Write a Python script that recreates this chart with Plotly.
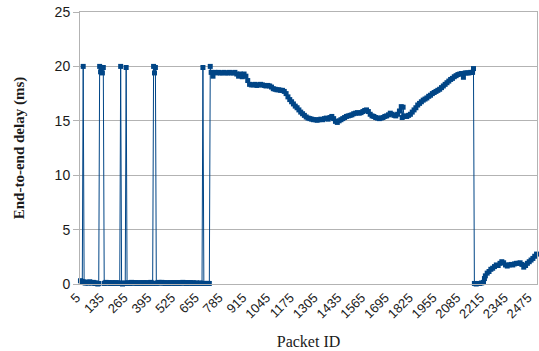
import plotly.graph_objects as go

# ---- data ----
# Segment A: packets 5..710 (step 5), baseline near 0 with spikes to ~20 ms
segA_id = list(range(5, 715, 5))
segA_delay = [
    0.3, 0.25, 0.2, 20.0, 0.2, 0.1, 0.1, 0.15, 0.1, 0.1, 0.2, 0.15, 0.1, 0.1, 0.15, 0.1, 0.05, 0.1, 0.05, 0.0,
    0.05, 20.0, 19.5, 19.9, 19.4, 19.9, 0.05, 0.1, 0.15, 0.1, 0.1, 0.1, 0.1, 0.05, 0.1, 0.1, 0.1, 0.05, 0.1, 0.1,
    0.1, 0.05, 0.1, 0.05, 20.0, 0.05, 0.0, 0.05, 0.1, 0.05, 19.9, 0.05, 0.1, 0.1, 0.05, 0.1, 0.15, 0.1, 0.1, 0.1,
    0.1, 0.1, 0.05, 0.1, 0.1, 0.1, 0.05, 0.1, 0.1, 0.1, 0.1, 0.05, 0.1, 0.1, 0.1, 0.05, 0.1, 0.15, 0.1, 0.05,
    20.0, 19.4, 19.9, 0.05, 0.1, 0.1, 0.15, 0.1, 0.1, 0.15, 0.1, 0.1, 0.1, 0.05, 0.1, 0.1, 0.1, 0.05, 0.1, 0.1,
    0.1, 0.1, 0.1, 0.05, 0.1, 0.1, 0.1, 0.1, 0.05, 0.1, 0.1, 0.1, 0.15, 0.1, 0.1, 0.1, 0.05, 0.1, 0.1, 0.1,
    0.1, 0.1, 0.05, 0.1, 0.1, 0.05, 0.05, 0.1, 0.05, 0.05, 0.05, 0.1, 0.05, 0.05, 19.9, 0.05, 0.05, 0.05, 0.05, 0.05,
    0.05, 0.05,
]

# Segment B: the long ~15-20 ms stretch
segB_id = [
    715, 720, 730, 740, 750, 760, 770, 780, 790, 800, 810, 820, 830, 840, 850, 860, 870, 880, 890, 900,
    910, 920, 930, 940, 950, 960, 970, 980, 990, 1000, 1010, 1020, 1030, 1040, 1050, 1060, 1070, 1080, 1090, 1100,
    1110, 1120, 1130, 1140, 1150, 1160, 1170, 1180, 1190, 1200, 1210, 1220, 1230, 1240, 1250, 1260, 1270, 1280, 1290, 1300,
    1310, 1320, 1330, 1340, 1350, 1360, 1370, 1380, 1390, 1400, 1410, 1420, 1430, 1440, 1450, 1460, 1470, 1480, 1490, 1500,
    1510, 1520, 1530, 1540, 1550, 1560, 1570, 1580, 1590, 1600, 1610, 1620, 1630, 1640, 1650, 1660, 1670, 1680, 1690, 1700,
    1710, 1720, 1730, 1740, 1750, 1760, 1765, 1770, 1775, 1780, 1790, 1800, 1810, 1820, 1830, 1840, 1850, 1860, 1870, 1880,
    1890, 1900, 1910, 1920, 1930, 1940, 1950, 1960, 1970, 1980, 1990, 2000, 2010, 2020, 2030, 2040, 2050, 2060, 2070, 2080,
    2090, 2100, 2110, 2120, 2130, 2140, 2150, 2155,
]
segB_delay = [
    20.0, 19.45, 19.1, 19.45, 19.4, 19.45, 19.4, 19.4, 19.45, 19.4, 19.4, 19.45, 19.4, 19.4, 19.45, 19.3, 19.1, 19.3, 19.05, 19.3,
    19.1, 18.7, 18.35, 18.3, 18.3, 18.35, 18.25, 18.3, 18.35, 18.3, 18.25, 18.2, 18.25, 18.2, 18.1, 17.95, 17.9, 17.85, 17.85, 17.8,
    17.8, 17.7, 17.5, 17.2, 16.95, 16.75, 16.55, 16.35, 16.2, 16.0, 15.8, 15.65, 15.5, 15.35, 15.25, 15.2, 15.15, 15.1, 15.1, 15.05,
    15.1, 15.15, 15.1, 15.2, 15.25, 15.15, 15.3, 15.4, 15.2, 14.95, 14.85, 15.0, 15.1, 15.2, 15.3, 15.4, 15.45, 15.5, 15.55, 15.65,
    15.7, 15.75, 15.7, 15.75, 15.85, 15.95, 16.0, 15.85, 15.6, 15.45, 15.4, 15.3, 15.25, 15.2, 15.25, 15.3, 15.4, 15.45, 15.55, 15.7,
    15.6, 15.5, 15.45, 15.6, 15.9, 16.3, 15.3, 16.25, 15.4, 15.45, 15.4, 15.5, 15.6, 15.8, 16.0, 16.2, 16.45, 16.6, 16.75, 16.9,
    17.0, 17.1, 17.25, 17.35, 17.5, 17.6, 17.7, 17.8, 17.9, 18.05, 18.2, 18.35, 18.5, 18.65, 18.8, 18.9, 19.05, 19.15, 19.25, 19.3,
    19.35, 19.0, 19.4, 19.4, 19.4, 19.45, 19.45, 19.8,
]

# Segment C: the final low stretch
segC_id = [
    2160, 2170, 2180, 2190, 2200, 2210, 2215, 2220, 2230, 2240, 2250, 2260, 2270, 2280, 2290, 2300, 2310, 2320, 2330, 2340,
    2350, 2360, 2370, 2380, 2390, 2400, 2410, 2420, 2430, 2440, 2450, 2460, 2470, 2480, 2490, 2500,
]
segC_delay = [
    0.05, 0.0, 0.05, 0.05, 0.1, 0.15, 0.5, 0.75, 1.0, 1.15, 1.35, 1.45, 1.6, 1.75, 1.7, 1.9, 2.05, 1.95, 1.75, 1.65,
    1.75, 1.8, 1.75, 1.85, 1.9, 1.9, 1.95, 1.8, 1.55, 1.7, 1.9, 2.05, 2.2, 2.35, 2.55, 2.75,
]

tick_labels = [5, 135, 265, 395, 525, 655, 785, 915, 1045, 1175, 1305, 1435, 1565,
               1695, 1825, 1955, 2085, 2215, 2345, 2475]

packet_id = segA_id + segB_id + segC_id
delay = segA_delay + segB_delay + segC_delay

SERIES = "#004586"
GRID = "#b3b3b3"
TXT = "#1a1a1a"

fig = go.Figure()
fig.add_trace(go.Scatter(
    x=packet_id, y=delay, mode="lines+markers",
    line=dict(color=SERIES, width=1),
    marker=dict(symbol="square", size=5, color=SERIES, line=dict(width=0)),
    showlegend=False, cliponaxis=False,
))

fig.update_layout(
    width=539, height=351,
    margin=dict(l=80, r=2, t=12, b=67, autoexpand=False),
    paper_bgcolor="white", plot_bgcolor="white",
    font=dict(family="Liberation Sans, Arial, sans-serif", size=13, color=TXT),
    xaxis=dict(
        range=[2.5, 2502.5], tickmode="array", tickvals=tick_labels,
        ticktext=[str(v) for v in tick_labels], tickangle=-45,
        showgrid=False, zeroline=False, automargin=False,
        showline=True, linecolor=GRID, linewidth=1, mirror=True,
        ticks="", tickfont=dict(size=13, color=TXT), ticklabelshift=-4,
        title=dict(text="Packet ID", font=dict(family="Liberation Serif, Times New Roman, serif", size=16, color=TXT), standoff=15),
    ),
    yaxis=dict(
        range=[0, 25], dtick=5, showgrid=True, gridcolor=GRID, gridwidth=1,
        zeroline=False, showline=True, linecolor=GRID, linewidth=1, mirror=True,
        automargin=False,
        ticks="outside", ticklen=6, tickcolor=GRID, tickfont=dict(size=14, color=TXT),
        title=dict(text="<b>End-to-end delay (ms)</b>",
                   font=dict(family="Liberation Serif, Times New Roman, serif", size=15, color=TXT), standoff=26),
    ),
)

fig.write_html("out.html", config={"displayModeBar": False},
               post_script="document.body.style.margin='0px';")
